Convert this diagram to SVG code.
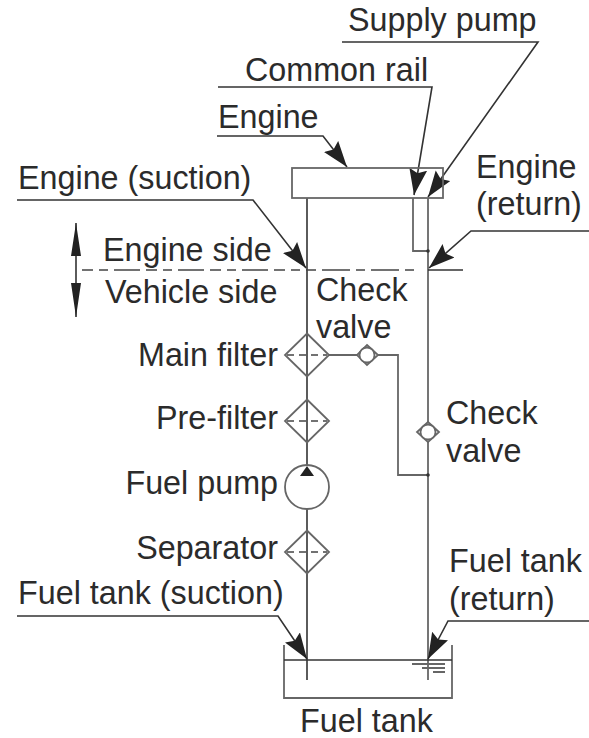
<svg xmlns="http://www.w3.org/2000/svg" width="589" height="738" viewBox="0 0 589 738">
<defs>
<marker id="ah" markerUnits="userSpaceOnUse" markerWidth="30" markerHeight="20" refX="26" refY="9" orient="auto"><path d="M0 0L26 9L0 18L4 9Z" fill="#222"/></marker>
<g id="f"><path d="M0 -21.500L22 0L0 21.500L-22 0Z" fill="#fff" class="g"/><path d="M-20 0H20" class="d"/></g>
</defs>
<style>
text{font-family:"Liberation Sans",Arial,sans-serif;font-size:32.300px;fill:#2b2b2b}
.k{fill:none;stroke:#333;stroke-width:1.600}
.g{stroke:#666;stroke-width:1.800;fill:none}
.d{stroke:#444;stroke-width:1.500;stroke-dasharray:7 5;fill:none}
.v{fill:#fff;stroke:#666;stroke-width:1.800}
</style>
<g id="connectors">
<path class="k" d="M307 198V680"/>
<path class="g" d="M428 198V680"/>
<path class="g" d="M413 198V251H428"/>
<path class="g" d="M329 355H398V475H428"/>
<path class="k" d="M342 42H538L428 197" marker-end="url(#ah)"/>
<path class="k" d="M218 87H432L414 195" marker-end="url(#ah)"/>
<path class="k" d="M217 136H323L347 167" marker-end="url(#ah)"/>
<path class="k" d="M589 231H471L429 268" marker-end="url(#ah)"/>
<path class="k" d="M17 200H253L306 268" marker-end="url(#ah)"/>
<path class="k" d="M17 616H278L307 659" marker-end="url(#ah)"/>
<path class="k" d="M589 621H448L428 659" marker-end="url(#ah)"/>
<path class="k" d="M76 223V317"/>
<path d="M76 223L81 256H71ZM76 317L81 283H71Z" fill="#222"/>
<path class="d" d="M82 270H307" style="stroke-dasharray:11 6 9 6 26 6"/>
<path class="d" d="M307 270H420" style="stroke-dasharray:9 6 28 6"/>
<path class="k" d="M428 270H463"/>
<circle cx="428" cy="251" r="1.800" fill="#333"/>
<circle cx="428" cy="475" r="1.800" fill="#333"/>
</g>
<g id="engine"><rect x="292" y="168" width="151" height="30" class="g"/></g>
<g id="main-filter"><use href="#f" x="307" y="355"/></g>
<g id="pre-filter"><use href="#f" x="307" y="421"/></g>
<g id="fuel-pump"><circle cx="307" cy="487" r="22" class="v"/><path d="M307 466L314 476H300Z" fill="#222"/></g>
<g id="separator"><use href="#f" x="307" y="552"/></g>
<g id="check-valve-1"><path d="M367 345L378 355L367 365L357 355Z" class="v"/><circle cx="367" cy="355" r="7.500" class="v"/></g>
<g id="check-valve-2"><path d="M428 422L439 432L428 442L417 432Z" class="v"/><circle cx="428" cy="432" r="7.500" class="v"/></g>
<g id="fuel-tank">
<path class="g" d="M284 645V698H452V645"/>
<path class="k" d="M284 660H452"/>
<path class="g" d="M412 664H445M422 668H445M433 672H445"/>
</g>
<g id="labels">
<text x="348" y="31">Supply pump</text>
<text x="245" y="81">Common rail</text>
<text x="218" y="128">Engine</text>
<text x="476" y="178">Engine</text>
<text x="476" y="215">(return)</text>
<text x="18" y="189">Engine (suction)</text>
<text x="103" y="261">Engine side</text>
<text x="105" y="303">Vehicle side</text>
<text x="316" y="301">Check</text>
<text x="316" y="338">valve</text>
<text x="278" y="366" text-anchor="end">Main filter</text>
<text x="278" y="429" text-anchor="end">Pre-filter</text>
<text x="278" y="494" text-anchor="end">Fuel pump</text>
<text x="278" y="559" text-anchor="end">Separator</text>
<text x="446" y="424">Check</text>
<text x="446" y="462">valve</text>
<text x="449" y="572">Fuel tank</text>
<text x="449" y="610">(return)</text>
<text x="18" y="604">Fuel tank (suction)</text>
<text x="300" y="732">Fuel tank</text>
</g>
</svg>
